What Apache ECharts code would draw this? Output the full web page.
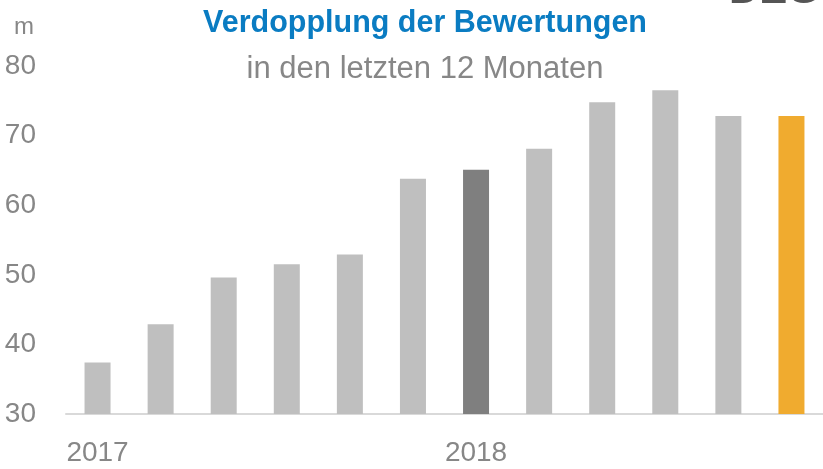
<!DOCTYPE html>
<html>
<head>
<meta charset="utf-8">
<script src="https://cdn.jsdelivr.net/npm/echarts@6/dist/echarts.min.js"></script>
<style>
  html, body { margin: 0; padding: 0; background: #fff; }
  #chart { width: 823px; height: 469px; }
</style>
</head>
<body>
<div id="chart"></div>
<script>
// Valuation over the last 12 months (in m)
const months = ["2017", "", "", "", "", "", "2018", "", "", "", "", ""];
const values = [37.4, 42.9, 49.6, 51.5, 52.9, 63.8, 65.1, 68.1, 74.8, 76.5, 72.8, 72.8];
const barColors = ["#bfbfbf", "#bfbfbf", "#bfbfbf", "#bfbfbf", "#bfbfbf", "#bfbfbf", "#7f7f7f",
  "#bfbfbf", "#bfbfbf", "#bfbfbf", "#bfbfbf", "#f0ab2f"];
const yMin = 30, yMax = 80, yStep = 10;

const NARROW = "'Liberation Sans Narrow', 'Liberation Sans', Arial, sans-serif";
const SANS = "'Liberation Sans', Arial, sans-serif";
const GREY = "#878787";

const chart = echarts.init(document.getElementById("chart"), null, { renderer: "canvas" });
chart.setOption({
  animation: false,
  grid: { left: 66, right: -11, top: 66, bottom: 55 },
  graphic: [
    { type: "text", x: 425, y: 8,
      style: { text: "Verdopplung der Bewertungen", fill: "#0a7cc2", font: "bold 30.5px " + SANS, align: "center" } },
    { type: "text", x: 425, y: 54,
      style: { text: "in den letzten 12 Monaten", fill: GREY, font: "31px " + SANS, align: "center" } },
    { type: "text", left: 14, top: 15,
      style: { text: "m", fill: GREY, font: "24px " + NARROW } },
    { type: "text", left: 729, top: -30,
      style: { text: "DEG", fill: "#555", font: "bold 42px " + SANS } },
  ],
  xAxis: {
    type: "category",
    data: months,
    axisLine: { lineStyle: { color: "#d9d9d9", width: 2 } },
    axisTick: { show: false },
    axisLabel: { interval: 0, margin: 25, color: GREY, fontSize: 28, fontFamily: NARROW },
  },
  yAxis: {
    type: "value",
    min: yMin, max: yMax, interval: yStep,
    axisLine: { show: false },
    axisTick: { show: false },
    splitLine: { show: false },
    axisLabel: { margin: 30, color: GREY, fontSize: 28, fontFamily: NARROW },
  },
  series: [{
    type: "bar",
    barWidth: 26,
    data: values.map((v, i) => ({ value: v, itemStyle: { color: barColors[i] } })),
  }],
});
</script>
</body>
</html>
